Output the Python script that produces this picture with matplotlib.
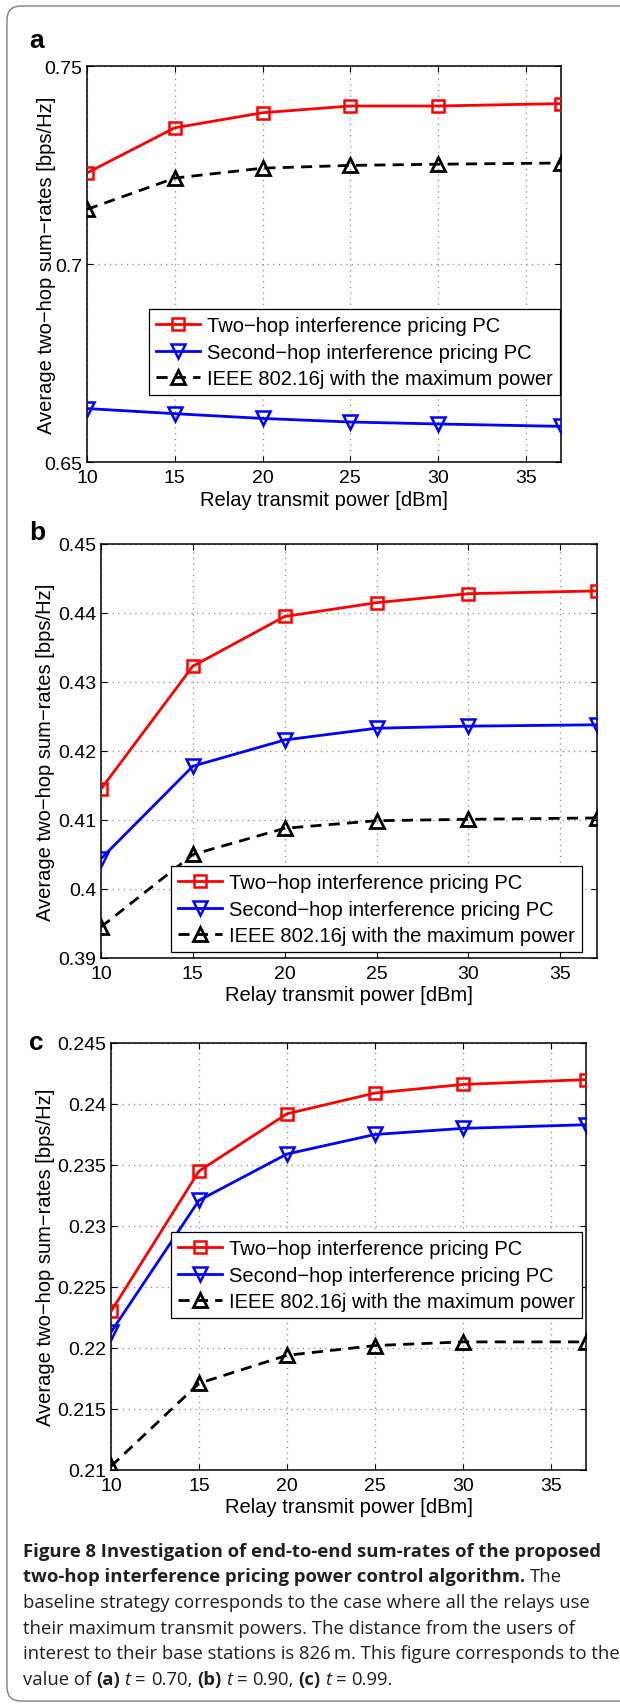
import matplotlib
matplotlib.use('Agg')
import matplotlib.pyplot as plt
from matplotlib.patches import FancyBboxPatch
from matplotlib.transforms import IdentityTransform

# ---------------- data ----------------
x_power = [10, 15, 20, 25, 30, 37]
x_ticks = [10, 15, 20, 25, 30, 35]
series_labels = ['Two\u2212hop interference pricing PC',
                 'Second\u2212hop interference pricing PC',
                 'IEEE 802.16j with the maximum power']

a_two_hop = [0.7230, 0.7344, 0.7382, 0.7399, 0.7399, 0.7405]
a_second_hop = [0.6635, 0.6622, 0.6610, 0.6601, 0.6596, 0.6590]
a_ieee = [0.7138, 0.7217, 0.7242, 0.7249, 0.7252, 0.7255]
a_yticks = [0.65, 0.70, 0.75]
a_yticklabels = ['0.65', '0.7', '0.75']

b_two_hop = [0.4145, 0.4323, 0.4395, 0.4415, 0.4428, 0.4432]
b_second_hop = [0.4044, 0.4178, 0.4216, 0.4233, 0.4236, 0.4238]
b_ieee = [0.3945, 0.4050, 0.4088, 0.4099, 0.4101, 0.4103]
b_yticks = [0.39, 0.40, 0.41, 0.42, 0.43, 0.44, 0.45]
b_yticklabels = ['0.39', '0.4', '0.41', '0.42', '0.43', '0.44', '0.45']

c_two_hop = [0.2230, 0.2345, 0.2392, 0.2409, 0.2416, 0.2420]
c_second_hop = [0.2213, 0.2321, 0.2359, 0.2375, 0.2380, 0.2383]
c_ieee = [0.2103, 0.2171, 0.2194, 0.2202, 0.2205, 0.2205]
c_yticks = [0.21, 0.215, 0.22, 0.225, 0.23, 0.235, 0.24, 0.245]
c_yticklabels = ['0.21', '0.215', '0.22', '0.225', '0.23', '0.235', '0.24', '0.245']

x_label = 'Relay transmit power [dBm]'
y_label = 'Average two\u2212hop sum\u2212rates [bps/Hz]'
panel_letters = ['a', 'b', 'c']

# ---------------- layout ----------------
W, H = 620, 1706
plt.rcParams['font.family'] = ['Liberation Sans', 'DejaVu Sans']
fig = plt.figure(figsize=(W / 100, H / 100), dpi=100)
fig.patch.set_facecolor('white')

# outer rounded frame
frame = FancyBboxPatch((7, 4), 660, 1695, boxstyle='round,pad=0,rounding_size=14',
                       transform=IdentityTransform(), facecolor='none',
                       edgecolor='#8a8a8a', linewidth=1.1)
fig.patches.append(frame)

panels = [
    dict(box=(87, 67, 561, 463), two=a_two_hop, sec=a_second_hop, ieee=a_ieee,
         yt=a_yticks, ytl=a_yticklabels, leg=(149, 310), letter=(29, 48),
         xlab_y=501, ylab_x=47),
    dict(box=(101, 545, 597, 959), two=b_two_hop, sec=b_second_hop, ieee=b_ieee,
         yt=b_yticks, ytl=b_yticklabels, leg=(171, 867), letter=(29, 540),
         xlab_y=996, ylab_x=46),
    dict(box=(111, 1044, 586, 1471), two=c_two_hop, sec=c_second_hop, ieee=c_ieee,
         yt=c_yticks, ytl=c_yticklabels, leg=(171, 1233), letter=(29, 1050),
         xlab_y=1508, ylab_x=46),
]

TICK_FS = 14
LAB_FS = 14.5
LEG_FS = 14.5

for p, letter in zip(panels, panel_letters):
    l, t, r, b = p['box']
    ax = fig.add_axes([l / W, 1 - b / H, (r - l) / W, (b - t) / H])
    ax.plot(x_power, p['two'], color='#ff0000', lw=2.0, marker='s', ms=8,
            mfc='none', mec='#ff0000', mew=1.8, label=series_labels[0], zorder=3)
    ax.plot(x_power, p['sec'], color='#0000ff', lw=2.0, marker='v', ms=9.5,
            mfc='none', mec='#0000ff', mew=1.8, label=series_labels[1], zorder=3)
    ax.plot(x_power, p['ieee'], color='black', lw=2.0, ls=(0, (4, 2.6)), marker='^',
            ms=9.5, mfc='none', mec='black', mew=2.0, label=series_labels[2], zorder=3)
    ax.set_xlim(10, 37)
    ax.set_ylim(p['yt'][0], p['yt'][-1])
    ax.set_xticks(x_ticks)
    ax.set_xticklabels([str(v) for v in x_ticks])
    ax.set_yticks(p['yt'])
    ax.set_yticklabels(p['ytl'])
    ax.grid(True, linestyle=(0, (1, 3.5)), color='#8c8c8c', linewidth=0.9)
    ax.tick_params(direction='in', length=4, width=0.8, top=True, right=True,
                   labelsize=TICK_FS, colors='black')
    ax.tick_params(axis='x', pad=5)
    ax.tick_params(axis='y', pad=3.5)
    for s in ax.spines.values():
        s.set_linewidth(1.1)
        s.set_color('black')
    for ln in ax.get_xgridlines() + ax.get_ygridlines():
        ln.set_zorder(0.5)

    lx, ly = p['leg']
    leg = ax.legend(loc='upper left', bbox_to_anchor=(lx / W, 1 - ly / H),
                    bbox_transform=fig.transFigure, borderaxespad=0,
                    fontsize=LEG_FS, frameon=True, fancybox=False, framealpha=1,
                    edgecolor='black', handlelength=2.2, handletextpad=0.35,
                    labelspacing=0.38, borderpad=0.35)
    leg.get_frame().set_linewidth(0.9)

    cx = (l + r) / 2
    fig.text(cx / W, 1 - p['xlab_y'] / H, x_label, fontsize=LAB_FS,
             ha='center', va='center')
    fig.text(p['ylab_x'] / W, 1 - (t + b) / 2 / H, y_label, fontsize=LAB_FS,
             ha='center', va='center', rotation=90)
    fx, fy = p['letter']
    fig.text(fx / W, 1 - fy / H, letter, fontsize=19, fontweight='bold',
             ha='left', va='baseline')

# ---------------- caption ----------------
CAP_FONT = ['Open Sans', 'DejaVu Sans']
renderer = fig.canvas.get_renderer()

def text_w(s, size, **kw):
    tt = fig.text(0, 0, s, fontsize=size, family=CAP_FONT, **kw)
    w = tt.get_window_extent(renderer).width
    tt.remove()
    return w

cap_lines = [
    [("Figure 8 Investigation of end-to-end sum-rates of the proposed", 'b')],
    [("two-hop interference pricing power control algorithm.", 'b'), (" ", 'n'), ("The", 'n')],
    [("baseline strategy corresponds to the case where all the relays use", 'n')],
    [("their maximum transmit powers. The distance from the users of", 'n')],
    [("interest to their base stations is 826\u2009m. This figure corresponds to the", 'n')],
    [("value of", 'n'), (" ", 'n'), ("(a)", 'b'), (" ", 'n'), ("t", 'i'), (" ", 'n'),
     ("=", 'n'), (" ", 'n'), ("0.70,", 'n'), (" ", 'n'), ("(b)", 'b'), (" ", 'n'),
     ("t", 'i'), (" ", 'n'), ("=", 'n'), (" ", 'n'), ("0.90,", 'n'), (" ", 'n'),
     ("(c)", 'b'), (" ", 'n'), ("t", 'i'), (" ", 'n'), ("=", 'n'), (" ", 'n'),
     ("0.99.", 'n')],
]
cap_baselines = [1557, 1582, 1608, 1634, 1659, 1685]
styles = {'b': dict(fontweight='bold'), 'n': dict(), 'i': dict(fontstyle='italic')}

base = 12.0
w1 = text_w(cap_lines[0][0][0], base, fontweight='bold')
w5 = text_w(cap_lines[4][0][0], base)
CAP_FS = min(base * 593 / w1, base * 592 / w5)
space_w = text_w("a a", CAP_FS) - text_w("aa", CAP_FS)

for runs, yb in zip(cap_lines, cap_baselines):
    xcur = 23.0
    for s, st in runs:
        if s == " ":
            xcur += space_w
            continue
        tt = fig.text(xcur / W, 1 - yb / H, s, fontsize=CAP_FS, family=CAP_FONT,
                      ha='left', va='baseline', color='#231f20', **styles[st])
        xcur += tt.get_window_extent(renderer).width

fig.savefig('out.png', dpi=100, facecolor='white')
